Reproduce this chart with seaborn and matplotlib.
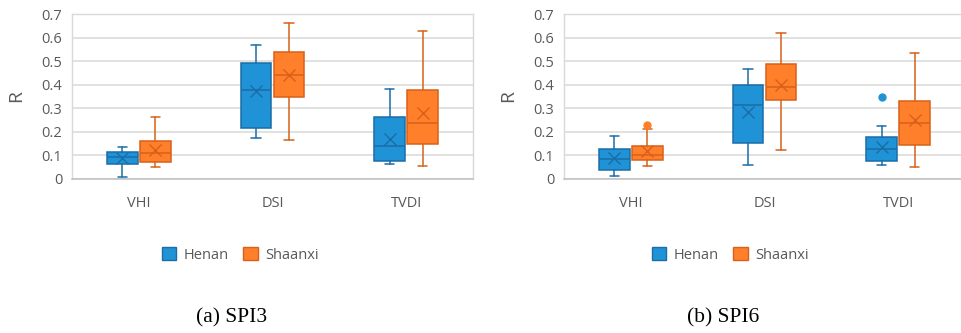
import numpy as np
import matplotlib
matplotlib.use("Agg")
import matplotlib.pyplot as plt
import seaborn as sns
from matplotlib.patches import Patch
from matplotlib.ticker import FuncFormatter

categories = ["VHI", "DSI", "TVDI"]
regions = ["Henan", "Shaanxi"]

# Box statistics of R per index: whisker low, Q1, median, Q3, whisker high, mean
spi3_henan = dict(lo=[0.010, 0.174, 0.062], q1=[0.064, 0.215, 0.078],
                  med=[0.092, 0.378, 0.142], q3=[0.115, 0.491, 0.263],
                  hi=[0.137, 0.569, 0.381], mean=[0.088, 0.375, 0.168])
spi3_shaanxi = dict(lo=[0.053, 0.167, 0.057], q1=[0.074, 0.346, 0.147],
                    med=[0.112, 0.442, 0.239], q3=[0.161, 0.538, 0.377],
                    hi=[0.261, 0.661, 0.627], mean=[0.123, 0.442, 0.278])
spi6_henan = dict(lo=[0.014, 0.058, 0.058], q1=[0.038, 0.152, 0.078],
                  med=[0.085, 0.314, 0.127], q3=[0.126, 0.397, 0.180],
                  hi=[0.183, 0.467, 0.224], mean=[0.088, 0.286, 0.137])
spi6_shaanxi = dict(lo=[0.057, 0.125, 0.052], q1=[0.082, 0.336, 0.146],
                    med=[0.102, 0.390, 0.237], q3=[0.140, 0.489, 0.331],
                    hi=[0.211, 0.618, 0.534], mean=[0.120, 0.398, 0.251])
spi6_henan_outliers = [[], [], [0.347]]
spi6_shaanxi_outliers = [[0.231], [], []]

panel_titles = ["(a) SPI3", "(b) SPI6"]

fill_colors = {"Henan": "#1F93D6", "Shaanxi": "#FF7F2A"}
edge_colors = {"Henan": "#1A6DA8", "Shaanxi": "#D9601A"}
grid_color = "#D9D9D9"
text_color = "#595959"

sns.set_theme(style="white")
plt.rcParams["font.family"] = ["Open Sans", "DejaVu Sans"]

W, H = 962, 333
fig = plt.figure(figsize=(W / 100, H / 100), dpi=100)
ax_a = fig.add_axes([72 / W, 1 - 179 / H, 401 / W, 165 / H])
ax_b = fig.add_axes([564 / W, 1 - 179 / H, 401 / W, 165 / H])


def draw_panel(ax, series, outliers):
    offsets = {"Henan": -0.123, "Shaanxi": 0.123}
    for region in regions:
        s = series[region]
        stats = []
        for i in range(len(categories)):
            stats.append(dict(whislo=s["lo"][i], q1=s["q1"][i], med=s["med"][i],
                              q3=s["q3"][i], whishi=s["hi"][i], mean=s["mean"][i],
                              fliers=outliers[region][i]))
        fc, ec = fill_colors[region], edge_colors[region]
        ax.bxp(stats, positions=np.arange(len(categories)) + offsets[region],
               widths=0.23, capwidths=0.07, patch_artist=True, showmeans=True,
               manage_ticks=False,
               boxprops=dict(facecolor=fc, edgecolor=ec, linewidth=1.1),
               whiskerprops=dict(color=ec, linewidth=1.1),
               capprops=dict(color=ec, linewidth=1.1),
               medianprops=dict(color=ec, linewidth=1.1),
               meanprops=dict(marker="x", markeredgecolor=ec, markersize=9,
                              markeredgewidth=1.0),
               flierprops=dict(marker="o", markerfacecolor=fc, markeredgecolor=fc,
                               markersize=5))
    ax.set_xlim(-0.5, len(categories) - 0.5)
    ax.set_ylim(0, 0.7)
    ax.set_yticks(np.arange(0, 0.71, 0.1))
    ax.yaxis.set_major_formatter(FuncFormatter(lambda v, p: "0" if abs(v) < 1e-9 else f"{v:.1f}"))
    ax.set_xticks(range(len(categories)))
    ax.set_xticklabels(categories)
    ax.yaxis.grid(True, color=grid_color, linewidth=1.1)
    ax.xaxis.grid(False)
    ax.set_axisbelow(True)
    for side in ["left", "top", "right"]:
        ax.spines[side].set_color(grid_color)
        ax.spines[side].set_linewidth(1.0)
    ax.spines["bottom"].set_color("#BFBFBF")
    ax.spines["bottom"].set_linewidth(1.1)
    ax.tick_params(axis="y", length=0, pad=7, labelsize=10.5, labelcolor=text_color)
    ax.tick_params(axis="x", length=0, pad=12, labelsize=10.5, labelcolor=text_color)
    ax.set_ylabel("R", fontsize=14, color=text_color)
    ax.yaxis.set_label_coords(-0.118, 0.5)


draw_panel(ax_a, {"Henan": spi3_henan, "Shaanxi": spi3_shaanxi},
           {"Henan": [[], [], []], "Shaanxi": [[], [], []]})
draw_panel(ax_b, {"Henan": spi6_henan, "Shaanxi": spi6_shaanxi},
           {"Henan": spi6_henan_outliers, "Shaanxi": spi6_shaanxi_outliers})

handles = [Patch(facecolor=fill_colors[r], edgecolor=edge_colors[r], label=r) for r in regions]
for cx in (240, 730):
    leg = fig.legend(handles=handles, loc="center", bbox_to_anchor=(cx / W, 1 - 255 / H),
                     ncol=2, frameon=False, fontsize=10.5, handlelength=1.0,
                     handleheight=1.0, handletextpad=0.5, columnspacing=1.0)
    for t in leg.get_texts():
        t.set_color(text_color)

for cx, title in zip((232, 723), panel_titles):
    fig.text(cx / W, 1 - 318 / H, title, ha="center", va="center",
             family="Liberation Serif", fontsize=15.5, color="black")

fig.savefig("out.png", dpi=100)
